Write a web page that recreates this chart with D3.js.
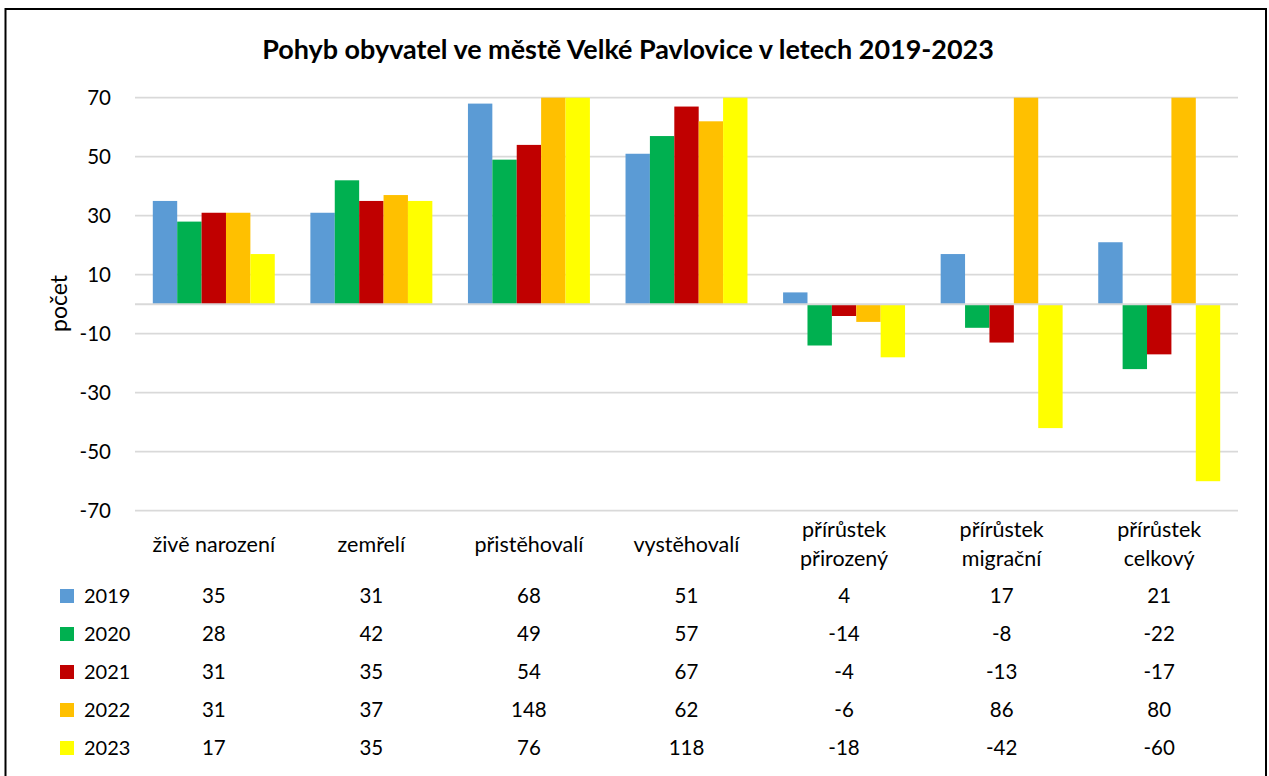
<!DOCTYPE html>
<html>
<head>
<meta charset="utf-8">
<script src="https://cdn.jsdelivr.net/npm/d3@7"></script>
<style>
  html, body { margin: 0; padding: 0; background: #fff; }
  svg { display: block; }
  text { font-family: Lato, "Liberation Sans", sans-serif; fill: #000; }
</style>
</head>
<body>
<svg id="chart" width="1269" height="776"></svg>
<script>
// ---- data ----
const categories = [
  ["živě narození"],
  ["zemřelí"],
  ["přistěhovalí"],
  ["vystěhovalí"],
  ["přírůstek", "přirozený"],
  ["přírůstek", "migrační"],
  ["přírůstek", "celkový"]
];
const years = ["2019", "2020", "2021", "2022", "2023"];
const values2019 = [35, 31, 68, 51, 4, 17, 21];
const values2020 = [28, 42, 49, 57, -14, -8, -22];
const values2021 = [31, 35, 54, 67, -4, -13, -17];
const values2022 = [31, 37, 148, 62, -6, 86, 80];
const values2023 = [17, 35, 76, 118, -18, -42, -60];
const yTicks = [-70, -50, -30, -10, 10, 30, 50, 70];
const colors = ["#5B9BD5", "#00B050", "#C00000", "#FFC000", "#FFFF00"];
const title = "Pohyb obyvatel ve městě Velké Pavlovice v letech 2019-2023";
const yLabel = "počet";

const series = [values2019, values2020, values2021, values2022, values2023];

// ---- layout ----
const svg = d3.select("#chart");
const plot = { left: 135, right: 1238, top: 97.7, bottom: 510.7 };

// outer border
svg.append("rect")
  .attr("x", 5.5).attr("y", 9).attr("width", 1260.5).attr("height", 800)
  .attr("fill", "none").attr("stroke", "#000").attr("stroke-width", 2);

// title
const t = svg.append("text")
  .attr("x", 628).attr("y", 59)
  .attr("text-anchor", "middle")
  .attr("font-weight", "bold")
  .attr("font-size", 25)
  .text(title);
const tw = t.node().getComputedTextLength();
t.attr("font-size", 25 * 732 / tw);

const x0 = d3.scaleBand()
  .domain(d3.range(categories.length))
  .range([plot.left, plot.right])
  .paddingInner(0.226).paddingOuter(0.113);
const xCat = d3.scaleBand()
  .domain(d3.range(categories.length))
  .range([plot.left, plot.right]);
const x1 = d3.scaleBand()
  .domain(d3.range(years.length))
  .range([0, x0.bandwidth()]);

const y = d3.scaleLinear().domain([-70, 70]).range([plot.bottom, plot.top]).clamp(true);

// gridlines
const grid = svg.append("g");
grid.selectAll("line").data(yTicks).join("line")
  .attr("x1", plot.left).attr("x2", plot.right)
  .attr("y1", d => y(d)).attr("y2", d => y(d))
  .attr("stroke", "#d9d9d9").attr("stroke-width", 1.75);

// y axis labels
const yAxis = d3.axisLeft(y).tickValues(yTicks).tickSize(0).tickPadding(0)
  .tickFormat(d => String(d));
const ya = svg.append("g").attr("transform", `translate(111,0)`).call(yAxis);
ya.select(".domain").remove();
ya.selectAll("text")
  .attr("font-family", "Lato, 'Liberation Sans', sans-serif")
  .attr("font-size", 20.5).attr("fill", "#000").attr("dy", "0.35em").attr("x", 0);

// y label
svg.append("text")
  .attr("transform", "translate(67,303.5) rotate(-90)")
  .attr("text-anchor", "middle")
  .attr("font-size", 23)
  .text(yLabel);

// bars
const barG = svg.append("g");
series.forEach((vals, si) => {
  barG.append("g").selectAll("rect").data(vals).join("rect")
    .attr("x", (d, i) => x0(i) + x1(si))
    .attr("width", x1.bandwidth())
    .attr("y", d => Math.min(y(d), y(0)))
    .attr("height", d => Math.abs(y(d) - y(0)))
    .attr("fill", colors[si]);
});

// zero axis line
svg.append("line")
  .attr("x1", plot.left).attr("x2", plot.right)
  .attr("y1", y(0)).attr("y2", y(0))
  .attr("stroke", "#d9d9d9").attr("stroke-width", 2);

// category labels
const catG = svg.append("g");
categories.forEach((lines, i) => {
  const cx = xCat(i) + xCat.bandwidth() / 2;
  const txt = catG.append("text")
    .attr("x", cx).attr("text-anchor", "middle").attr("font-size", 21.5);
  const startY = 544 - (lines.length - 1) * 28.5 / 2;
  lines.forEach((ln, li) => {
    txt.append("tspan").attr("x", cx).attr("y", startY + li * 28.5).attr("dy", "0.35em").text(ln);
  });
});

// data table
const rowY = [596, 634, 672, 710, 748];
const table = svg.append("g");
series.forEach((vals, si) => {
  const ry = rowY[si];
  table.append("rect")
    .attr("x", 60).attr("y", ry - 7).attr("width", 14).attr("height", 14)
    .attr("fill", colors[si]);
  table.append("text")
    .attr("x", 84).attr("y", ry).attr("dy", "0.35em")
    .attr("font-size", 20).text(years[si]);
  table.selectAll(null).data(vals).join("text")
    .attr("x", (d, i) => xCat(i) + xCat.bandwidth() / 2)
    .attr("y", ry).attr("dy", "0.35em")
    .attr("text-anchor", "middle").attr("font-size", 20.5)
    .text(d => d);
});
</script>
</body>
</html>
